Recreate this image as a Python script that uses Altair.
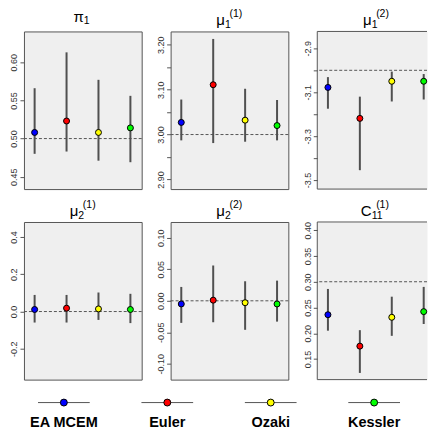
import json
import altair as alt
import pandas as pd

methods = ["EA MCEM", "Euler", "Ozaki", "Kessler"]
colors = ["#0000FF", "#FF0000", "#FFFF00", "#00FF00"]
positions = [1, 2, 3, 4]

# pi_1
pi1_est = [0.508, 0.523, 0.508, 0.514]
pi1_lo = [0.480, 0.483, 0.471, 0.469]
pi1_hi = [0.566, 0.613, 0.577, 0.556]
# mu_1^(1)
mu11_est = [3.027, 3.111, 3.032, 3.020]
mu11_lo = [2.987, 2.981, 2.984, 2.987]
mu11_hi = [3.078, 3.213, 3.102, 3.077]
# mu_1^(2)
mu12_est = [-3.078, -3.219, -3.050, -3.050]
mu12_lo = [-3.175, -3.455, -3.142, -3.133]
mu12_hi = [-3.031, -3.120, -3.006, -3.017]
# mu_2^(1)
mu21_est = [0.011, 0.018, 0.014, 0.011]
mu21_lo = [-0.059, -0.059, -0.045, -0.062]
mu21_hi = [0.089, 0.089, 0.102, 0.095]
# mu_2^(2)
mu22_est = [-0.005, 0.001, -0.003, -0.005]
mu22_lo = [-0.035, -0.034, -0.046, -0.033]
mu22_hi = [0.022, 0.056, 0.031, 0.032]
# C_11^(1)
c11_est = [0.236, 0.175, 0.231, 0.242]
c11_lo = [0.205, 0.123, 0.195, 0.218]
c11_hi = [0.286, 0.206, 0.271, 0.290]

true_values = [0.50, 3.00, -3.00, 0.00, 0.00, 0.30]

y_domains = [
    [0.4338, 0.6404],
    [2.8785, 3.2297],
    [-3.541, -2.823],
    [-0.365, 0.480],
    [-0.125, 0.125],
    [0.110, 0.416],
]
tick_values = [
    [0.45, 0.50, 0.55, 0.60],
    [2.90, 2.95, 3.00, 3.05, 3.10, 3.15, 3.20],
    [-3.5, -3.4, -3.3, -3.2, -3.1, -3.0, -2.9],
    [-0.2, 0.0, 0.2, 0.4],
    [-0.10, -0.05, 0.00, 0.05, 0.10],
    [0.15, 0.20, 0.25, 0.30, 0.35, 0.40],
]
tick_labels = [
    ["0.45", "0.50", "0.55", "0.60"],
    ["2.90", "", "3.00", "", "3.10", "", "3.20"],
    ["-3.5", "", "-3.3", "", "-3.1", "", "-2.9"],
    ["-0.2", "0.0", "0.2", "0.4"],
    ["-0.10", "-0.05", "0.00", "0.05", "0.10"],
    ["0.15", "0.20", "0.25", "0.30", "0.35", "0.40"],
]
# (main symbol, subscript, superscript)
titles = [
    ("\u03c0", "1", ""),
    ("\u03bc", "1", "(1)"),
    ("\u03bc", "1", "(2)"),
    ("\u03bc", "2", "(1)"),
    ("\u03bc", "2", "(2)"),
    ("C", "11", "(1)"),
]
estimates = [pi1_est, mu11_est, mu12_est, mu21_est, mu22_est, c11_est]
lows = [pi1_lo, mu11_lo, mu12_lo, mu21_lo, mu22_lo, c11_lo]
highs = [pi1_hi, mu11_hi, mu12_hi, mu21_hi, mu22_hi, c11_hi]

FONT = "Liberation Sans"
PW, PH = 118, 158
PW_LAST = 110          # right-hand column is cut off by the page edge
PX_PER_UNIT = 32.0
X_MIN = 0.666
BORDER = "#555555"
color_scale = alt.Scale(domain=methods, range=colors)


def panel(i):
    last_col = (i % 3 == 2)
    w = PW_LAST if last_col else PW
    df = pd.DataFrame({"method": methods, "pos": positions,
                       "est": estimates[i], "lo": lows[i], "hi": highs[i]})
    xs = alt.X("pos:Q", scale=alt.Scale(domain=[X_MIN, X_MIN + w / PX_PER_UNIT],
                                        nice=False, zero=False), axis=None)
    ysc = alt.Scale(domain=y_domains[i], nice=False, zero=False)
    expr = json.dumps(tick_labels[i]) + "[indexof(" + json.dumps(tick_values[i]) + ", datum.value)]"
    yax = alt.Axis(values=tick_values[i], labelExpr=expr, title=None, grid=False, domain=False,
                   tickSize=4, tickColor=BORDER, labelPadding=3, labelAngle=270,
                   labelAlign="center", labelBaseline="alphabetic", labelFontSize=9,
                   labelFont=FONT, labelColor="#333333", labelOverlap=False, labelFlush=False)
    ref = alt.Chart(pd.DataFrame({"ref": [true_values[i]]})).mark_rule(
        color=BORDER, strokeDash=[3, 2], strokeWidth=1
    ).encode(y=alt.Y("ref:Q", scale=ysc, axis=yax))
    base = alt.Chart(df)
    bars = base.mark_rule(color="#505050", strokeWidth=2).encode(
        x=xs, y=alt.Y("lo:Q", scale=ysc, axis=yax), y2="hi:Q")
    pts = base.mark_circle(size=36, stroke="black", strokeWidth=1, opacity=1).encode(
        x=xs, y=alt.Y("est:Q", scale=ysc, axis=yax),
        fill=alt.Fill("method:N", scale=color_scale, legend=None))
    main, sub, sup = titles[i]
    if sup:
        mx, my, sx, sy = 54.5, -6, 54.5, -3
    else:
        mx, my, sx, sy = 60, -9, 60, -7.5
    layers = [ref, bars, pts]
    layers.append(alt.Chart(pd.DataFrame({"t": [main]})).mark_text(
        align="right", baseline="alphabetic", fontSize=15, font=FONT, color="black"
    ).encode(text="t:N", x=alt.value(mx), y=alt.value(my)))
    layers.append(alt.Chart(pd.DataFrame({"t": [sub]})).mark_text(
        align="left", baseline="alphabetic", fontSize=10.5, font=FONT, color="black"
    ).encode(text="t:N", x=alt.value(sx), y=alt.value(sy)))
    if sup:
        layers.append(alt.Chart(pd.DataFrame({"t": [sup]})).mark_text(
            align="left", baseline="alphabetic", fontSize=10.5, font=FONT, color="black"
        ).encode(text="t:N", x=alt.value(59), y=alt.value(-14.5)))
    if last_col:
        # frame open on the right, as the panel runs off the page edge
        frame = alt.Chart(pd.DataFrame({"k": [0]}))
        layers.append(frame.mark_rule(color=BORDER, strokeWidth=1).encode(
            x=alt.value(0), y=alt.value(0), y2=alt.value(PH)))
        layers.append(frame.mark_rule(color=BORDER, strokeWidth=1).encode(
            x=alt.value(0), x2=alt.value(w), y=alt.value(0)))
        layers.append(frame.mark_rule(color=BORDER, strokeWidth=1).encode(
            x=alt.value(0), x2=alt.value(w), y=alt.value(PH)))
        return alt.layer(*layers).properties(
            width=w, height=PH, view=alt.ViewBackground(fill="#EFEFEF", stroke="transparent"))
    return alt.layer(*layers).properties(width=w, height=PH)


leg_df = pd.DataFrame({"method": methods, "pos": positions})
leg_df["lo"] = leg_df["pos"] - 0.25
leg_df["hi"] = leg_df["pos"] + 0.25
# legend occupies the first grid cell; its scale is unclamped so items run across the row
lx = alt.Scale(domain=[0.6142, 1.7524], nice=False, zero=False)
leg_line = alt.Chart(leg_df).mark_rule(color=BORDER, strokeWidth=1).encode(
    x=alt.X("lo:Q", scale=lx, axis=None), x2="hi:Q", y=alt.value(-10))
leg_pts = alt.Chart(leg_df).mark_circle(size=48, stroke="black", strokeWidth=1, opacity=1).encode(
    x=alt.X("pos:Q", scale=lx, axis=None), y=alt.value(-10),
    fill=alt.Fill("method:N", scale=color_scale, legend=None))
leg_txt = alt.Chart(leg_df).mark_text(fontWeight="bold", fontSize=14.5, font=FONT, color="black",
                                      align="center", baseline="alphabetic").encode(
    x=alt.X("pos:Q", scale=lx, axis=None), y=alt.value(14), text="method:N")
legend = alt.layer(leg_line, leg_pts, leg_txt).properties(
    width=PW, height=8, view=alt.ViewBackground(fill="transparent", stroke="transparent"))

chart = alt.concat(*[panel(i) for i in range(6)], legend, columns=3,
                   spacing=alt.RowColnumber(row=33, column=29), bounds="flush"
                   ).properties(padding={"left": 1, "top": 0, "right": 0, "bottom": 0}
                   ).configure_view(fill="#EFEFEF", stroke=BORDER, strokeWidth=1)

chart.save("out.html", embed_options={"renderer": "svg", "actions": False})
